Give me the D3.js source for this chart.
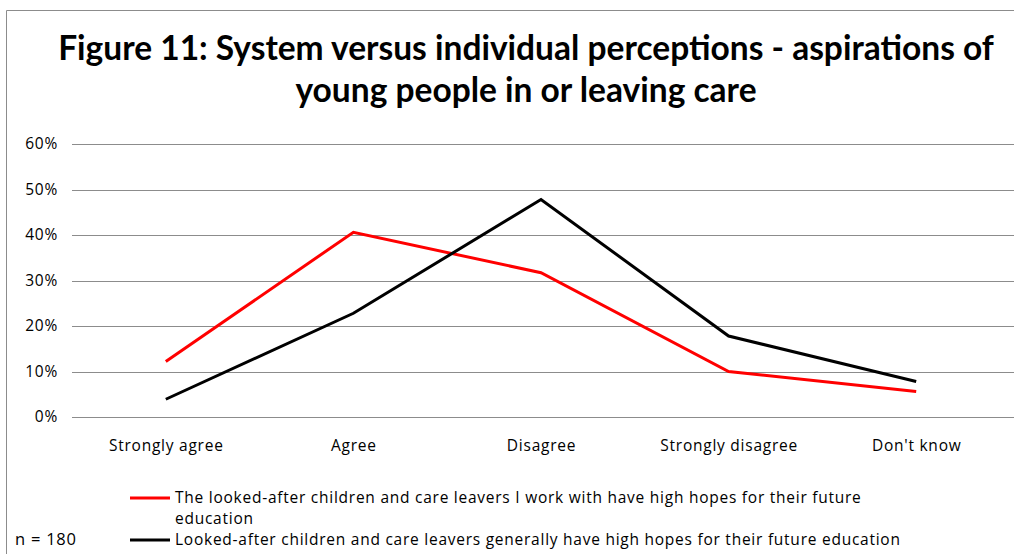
<!DOCTYPE html>
<html>
<head>
<meta charset="utf-8">
<script src="https://cdn.jsdelivr.net/npm/d3@7"></script>
<style>
  html, body { margin: 0; padding: 0; background: #fff; }
  svg { display: block; }
  text { font-family: "Open Sans", Lato, sans-serif; fill: #000; }
</style>
</head>
<body>
<svg id="chart" width="1014" height="554"></svg>
<script>
// Survey responses (share of 180 respondents)
const categories = ["Strongly agree", "Agree", "Disagree", "Strongly disagree", "Don't know"];
const workWithValues = [12.2, 40.6, 31.7, 10.0, 5.6];
const generallyValues = [3.9, 22.8, 47.8, 17.8, 7.8];
const yTicks = [0, 10, 20, 30, 40, 50, 60];
const seriesNames = [
  ["The looked-after children and care leavers I work with have high hopes for their future", "education"],
  ["Looked-after children and care leavers generally have high hopes for their future education"]
];
const seriesColors = ["#ff0000", "#000000"];
const titleLines = [
  "Figure 11: System versus individual perceptions - aspirations of",
  "young people in or leaving care"
];
const sampleNote = "n = 180";

const labelFont = "'Open Sans', Lato, sans-serif";
const labelSpacing = "0.75px";
const svg = d3.select("#chart");

// outer chart frame (left and top edges visible)
svg.append("path")
  .attr("d", "M6.5,554 V10.5 H1014")
  .attr("fill", "none")
  .attr("stroke", "#8c8c8c")
  .attr("stroke-width", 1);

// title
svg.selectAll("text.title")
  .data(titleLines)
  .join("text")
  .attr("class", "title")
  .attr("x", 526)
  .attr("y", (d, i) => 60 + i * 42)
  .attr("text-anchor", "middle")
  .style("font-family", "Lato, 'Open Sans', sans-serif")
  .style("font-weight", "700")
  .style("font-size", "33.5px")
  .text(d => d);

const plot = { left: 72, right: 1010, top: 144, bottom: 417 };

const x = d3.scalePoint()
  .domain(categories)
  .range([plot.left, plot.right])
  .padding(0.5);

const y = d3.scaleLinear()
  .domain([0, 60])
  .range([plot.bottom, plot.top]);

// gridlines
svg.append("g")
  .selectAll("line")
  .data(yTicks)
  .join("line")
  .attr("x1", plot.left)
  .attr("x2", 1014)
  .attr("y1", d => Math.round(y(d)) + 0.5)
  .attr("y2", d => Math.round(y(d)) + 0.5)
  .attr("stroke", "#8c8c8c")
  .attr("stroke-width", 1);

// y axis labels
const yAxis = d3.axisLeft(y)
  .tickValues(yTicks)
  .tickFormat(d => d + "%")
  .tickSize(0)
  .tickPadding(0);
const yg = svg.append("g")
  .attr("transform", `translate(58,0)`)
  .call(yAxis);
yg.select(".domain").remove();
yg.selectAll("text")
  .style("font-family", labelFont)
  .style("font-size", "15.5px")
  .style("letter-spacing", labelSpacing)
  .attr("fill", "#000");

// x axis labels
const xAxis = d3.axisBottom(x).tickSize(0).tickPadding(0);
const xg = svg.append("g")
  .attr("transform", `translate(0,440)`)
  .call(xAxis);
xg.select(".domain").remove();
xg.selectAll("text")
  .style("font-family", labelFont)
  .style("font-size", "15.5px")
  .style("letter-spacing", labelSpacing)
  .attr("fill", "#000");

// series lines
const line = d3.line()
  .x((d, i) => x(categories[i]))
  .y(d => y(d));

[workWithValues, generallyValues].forEach((vals, k) => {
  svg.append("path")
    .datum(vals)
    .attr("d", line)
    .attr("fill", "none")
    .attr("stroke", seriesColors[k])
    .attr("stroke-width", 3)
    .attr("stroke-linejoin", "miter");
});

// legend
const legendRows = [
  { y: 498, lines: seriesNames[0], color: seriesColors[0] },
  { y: 540, lines: seriesNames[1], color: seriesColors[1] }
];
legendRows.forEach(r => {
  svg.append("line")
    .attr("x1", 130).attr("x2", 170)
    .attr("y1", r.y).attr("y2", r.y)
    .attr("stroke", r.color)
    .attr("stroke-width", 3);
  svg.append("text")
    .attr("x", 175)
    .attr("y", r.y + 5)
    .style("font-family", labelFont)
    .style("font-size", "15.5px")
    .style("letter-spacing", labelSpacing)
    .selectAll("tspan")
    .data(r.lines)
    .join("tspan")
    .attr("x", 175)
    .attr("dy", (d, i) => i === 0 ? 0 : 21)
    .text(d => d);
});

// sample size note
svg.append("text")
  .attr("x", 15)
  .attr("y", 545)
  .style("font-family", labelFont)
  .style("font-size", "16.5px")
  .style("letter-spacing", labelSpacing)
  .text(sampleNote);
</script>
</body>
</html>
